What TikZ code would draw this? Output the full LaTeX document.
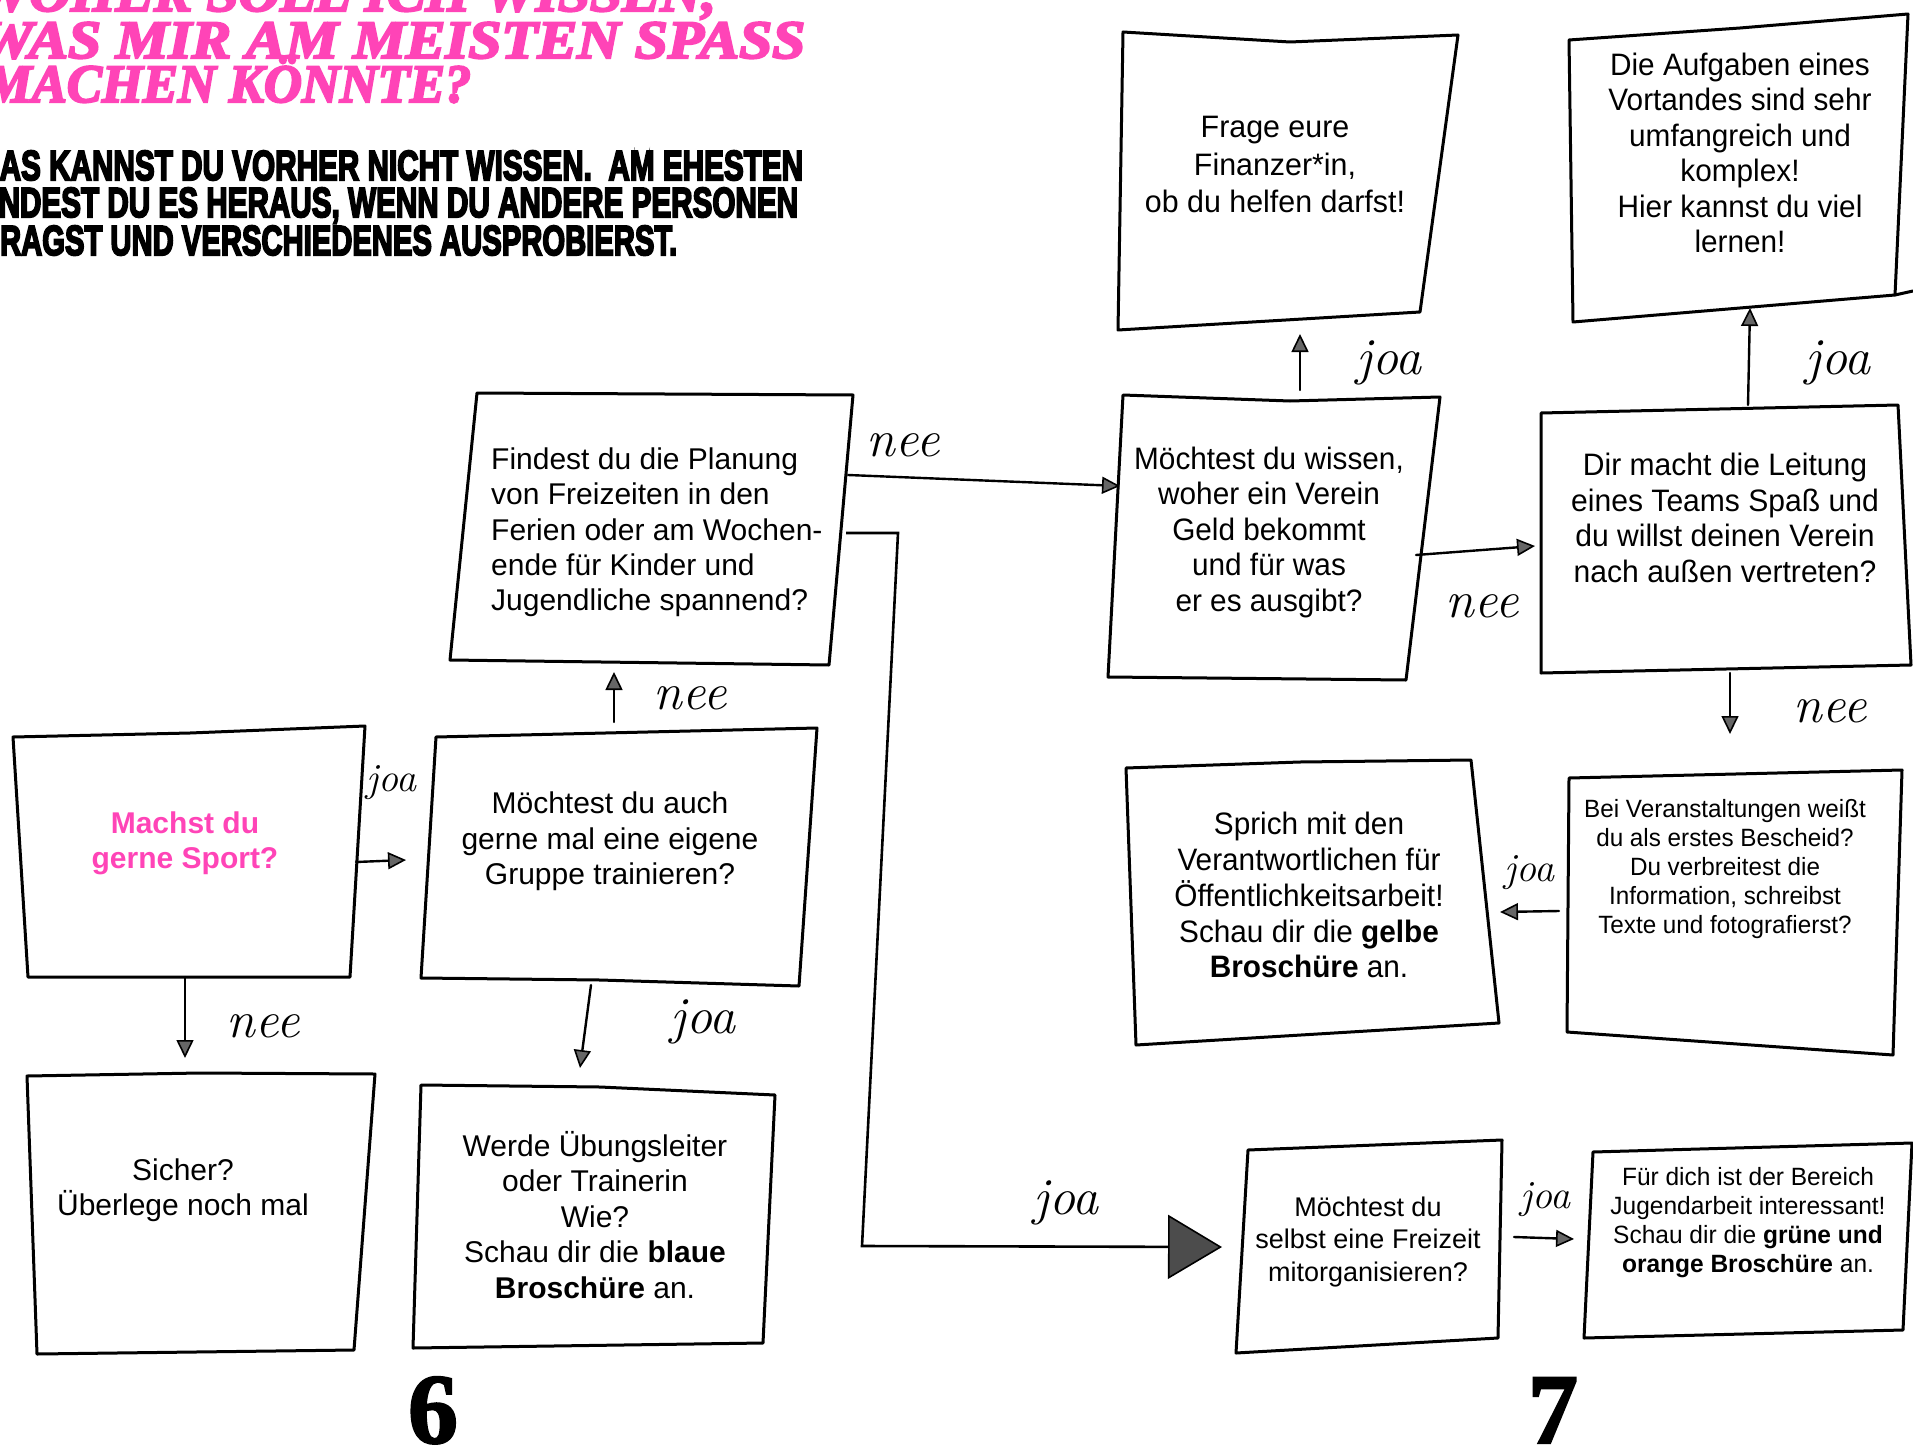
\documentclass[tikz,border=0pt]{standalone}
\usepackage{fontspec}
\usepackage{graphicx}
\usetikzlibrary{arrows.meta}
\setmainfont{Liberation Sans}
\newfontfamily\titlefont{Liberation Serif}[FakeBold=4]
\newfontfamily\numfont{Liberation Serif}[FakeBold=2]
\newfontfamily\headfont{Liberation Sans}[FakeBold=5]
\newfontfamily\handfont{Latin Modern Roman}
\definecolor{titlepink}{RGB}{255,68,183}
\newcommand\ctext[2]{\scalebox{#1}[1]{\begin{tabular}{@{}c@{}}#2\end{tabular}}}
\newcommand\ltext[2]{\scalebox{#1}[1]{\begin{tabular}{@{}l@{}}#2\end{tabular}}}
\begin{document}
\begin{tikzpicture}[x=1pt,y=-1pt,
  box/.style={line width=3pt, line join=round, line cap=round},
  txt/.style={inner sep=0pt},
  big/.style={txt, font=\fontsize{30}{35.4}\selectfont},
  bigc/.style={txt, font=\fontsize{31}{35.5}\selectfont},
  small/.style={txt, font=\fontsize{25}{29}\selectfont},
  title/.style={inner sep=0pt, anchor=base west, text=titlepink,
     font=\titlefont\bfseries\itshape\fontsize{54}{54}\selectfont},
  head/.style={inner sep=0pt, anchor=base west,
     font=\headfont\bfseries\fontsize{42}{42}\selectfont},
  hand/.style={inner sep=0pt, font=\handfont\itshape\fontsize{52}{52}\selectfont},
  hands/.style={inner sep=0pt, font=\handfont\itshape\fontsize{40}{40}\selectfont},
  conn/.style={line width=2.4pt, line cap=round,
     -{Triangle[length=18pt,width=17pt,fill=black!60,line width=1.6pt]}},
  bigconn/.style={line width=2.6pt,
     -{Triangle[length=54pt,width=64pt,fill=black!70,line width=1.6pt]}},
  pagenum/.style={inner sep=0pt, anchor=base, font=\numfont\bfseries\fontsize{100}{100}\selectfont}
]
\useasboundingbox (0,0) rectangle (1913,1447);
\fill[white] (0,0) rectangle (1913,1447);

% ---------- headline ----------
\begin{scope}
\clip (0,0) rectangle (1913,1447);
\node[title] (ti1) at (-22,11) {\resizebox{738pt}{\height}{WOHER SOLL ICH WISSEN,}};
\node[title] (ti2) at (-20,58) {\resizebox{825pt}{\height}{WAS MIR AM MEISTEN SPASS}};
\node[title] (ti3) at (-15,102) {\resizebox{486pt}{\height}{MACHEN KÖNNTE?}};
\node[head] (he1) at (-22,180) {\resizebox{825pt}{\height}{DAS KANNST DU VORHER NICHT WISSEN.\ \ AM EHESTEN}};
\node[head] (he2) at (-28,217) {\resizebox{826pt}{\height}{FINDEST DU ES HERAUS, WENN DU ANDERE PERSONEN}};
\node[head] (he3) at (-18,255) {\resizebox{695pt}{\height}{FRAGST UND VERSCHIEDENES AUSPROBIERST.}};
\end{scope}

% ---------- box outlines ----------
\draw[box] (13,737) -- (190,733) -- (365,726) -- (350,977) -- (28,977) -- cycle;
\draw[box] (27,1076) -- (200,1073) -- (375,1074) -- (354,1350) -- (37,1354) -- cycle;
\draw[box] (436,737) -- (817,728) -- (799,986) -- (600,980) -- (421,978) -- cycle;
\draw[box] (421,1085) -- (600,1087) -- (775,1095) -- (763,1343) -- (413,1348) -- cycle;
\draw[box] (477,393) -- (853,395) -- (829,665) -- (450,660) -- cycle;
\draw[box] (1123,395) -- (1290,401) -- (1440,397) -- (1406,680) -- (1108,677) -- cycle;
\draw[box] (1123,32) -- (1290,42) -- (1458,35) -- (1420,312) -- (1118,330) -- cycle;
\draw[box] (1569,40) -- (1740,28) -- (1908,14) -- (1895,295) -- (1573,322) -- cycle;
\draw[box] (1895,295) -- (1913,291);
\draw[box] (1541,413) -- (1898,405) -- (1911,665) -- (1541,673) -- cycle;
\draw[box] (1126,768) -- (1300,762) -- (1471,760) -- (1499,1023) -- (1136,1045) -- cycle;
\draw[box] (1569,778) -- (1902,770) -- (1893,1055) -- (1567,1032) -- cycle;
\draw[box] (1248,1150) -- (1502,1140) -- (1498,1338) -- (1236,1353) -- cycle;
\draw[box] (1593,1152) -- (1912,1143) -- (1903,1330) -- (1584,1338) -- cycle;

% ---------- box texts ----------
\node[big, text=titlepink, font=\bfseries\fontsize{30}{35.4}\selectfont] (sport) at (185,844)
  {\ctext{1}{Machst du\\gerne Sport?}};
\node[big] (sicher) at (183,1191) {\ctext{1}{Sicher?\\Überlege noch mal}};
\node[big] (gruppe) at (610,842) {\ctext{1}{Möchtest du auch\\gerne mal eine eigene\\Gruppe trainieren?}};
\node[big] (werde) at (595,1220) {\ctext{1}{Werde Übungsleiter\\oder Trainerin\\Wie?\\Schau dir die \textbf{blaue}\\\textbf{Broschüre} an.}};
\node[big, anchor=west] (planung) at (491,533) {\ltext{1}{Findest du die Planung\\von Freizeiten in den\\Ferien oder am Wochen-\\ende für Kinder und\\Jugendliche spannend?}};
\node[bigc] (geld) at (1269,533) {\ctext{0.96}{Möchtest du wissen,\\woher ein Verein\\Geld bekommt\\und für was\\er es ausgibt?}};
\node[bigc, font=\fontsize{31}{37.5}\selectfont] (frage) at (1275,168) {\ctext{0.98}{Frage eure\\Finanzer*in,\\ob du helfen darfst!}};
\node[bigc] (vorstand) at (1740,157) {\ctext{0.96}{Die Aufgaben eines\\Vortandes sind sehr\\umfangreich und\\komplex!\\Hier kannst du viel\\lernen!}};
\node[bigc] (leitung) at (1725,522) {\ctext{0.97}{Dir macht die Leitung\\eines Teams Spaß und\\du willst deinen Verein\\nach außen vertreten?}};
\node[bigc] (sprich) at (1309,899) {\ctext{0.96}{Sprich mit den\\Verantwortlichen für\\Öffentlichkeitsarbeit!\\Schau dir die \textbf{gelbe}\\\textbf{Broschüre} an.}};
\node[small] (veranst) at (1725,870) {\ctext{0.97}{Bei Veranstaltungen weißt\\du als erstes Bescheid?\\Du verbreitest die\\Information, schreibst\\Texte und fotografierst?}};
\node[txt, font=\fontsize{27}{32.5}\selectfont] (freizeit) at (1368,1242) {\ctext{1}{Möchtest du\\selbst eine Freizeit\\mitorganisieren?}};
\node[small] (jugend) at (1748,1223) {\ctext{0.98}{Für dich ist der Bereich\\Jugendarbeit interessant!\\Schau dir die \textbf{grüne und}\\\textbf{orange Broschüre} an.}};

% ---------- connector end points ----------
\coordinate (a1) at (356,862);   \coordinate (a2) at (406,860);
\coordinate (b1) at (185,977);   \coordinate (b2) at (185,1058);
\coordinate (c1) at (591,985);   \coordinate (c2) at (580,1068);
\coordinate (d1) at (614,722);   \coordinate (d2) at (614,672);
\coordinate (e1) at (848,475);   \coordinate (e2) at (1120,486);
\coordinate (f1) at (846,533);   \coordinate (f2) at (898,533);
\coordinate (f3) at (862,1246);  \coordinate (f4) at (1222,1247);
\coordinate (g1) at (1300,390);  \coordinate (g2) at (1300,334);
\coordinate (h1) at (1416,555);  \coordinate (h2) at (1535,546);
\coordinate (i1) at (1748,405);  \coordinate (i2) at (1750,308);
\coordinate (k1) at (1730,673);  \coordinate (k2) at (1730,734);
\coordinate (m1) at (1559,911);  \coordinate (m2) at (1500,912);
\coordinate (n1) at (1514,1237); \coordinate (n2) at (1574,1239);

% ---------- connectors ----------
\draw[conn] (a1) -- (a2);
\draw[conn] (b1) -- (b2);
\draw[conn] (c1) -- (c2);
\draw[conn] (d1) -- (d2);
\draw[conn] (e1) -- (e2);
\draw[bigconn] (f1) -- (f2) -- (f3) -- (f4);
\draw[conn] (g1) -- (g2);
\draw[conn] (h1) -- (h2);
\draw[conn] (i1) -- (i2);
\draw[conn] (k1) -- (k2);
\draw[conn] (m1) -- (m2);
\draw[conn] (n1) -- (n2);

% ---------- handwritten labels ----------
\node[hands] (la) at (391,783) {joa};
\node[hand]  (lb) at (263,1026) {nee};
\node[hand]  (lc) at (703,1022) {joa};
\node[hand]  (ld) at (690,698) {nee};
\node[hand]  (le) at (903,445) {nee};
\node[hand]  (lf) at (1066,1203) {joa};
\node[hand]  (lg) at (1389,363) {joa};
\node[hand]  (lh) at (1482,606) {nee};
\node[hand]  (li) at (1838,363) {joa};
\node[hand]  (lk) at (1830,711) {nee};
\node[hands] (lm) at (1529,873) {joa};
\node[hands] (ln) at (1545,1200) {joa};

% ---------- page numbers ----------
\node[pagenum] (p6) at (433,1443) {6};
\node[pagenum] (p7) at (1553,1443) {7};
\end{tikzpicture}
\end{document}
